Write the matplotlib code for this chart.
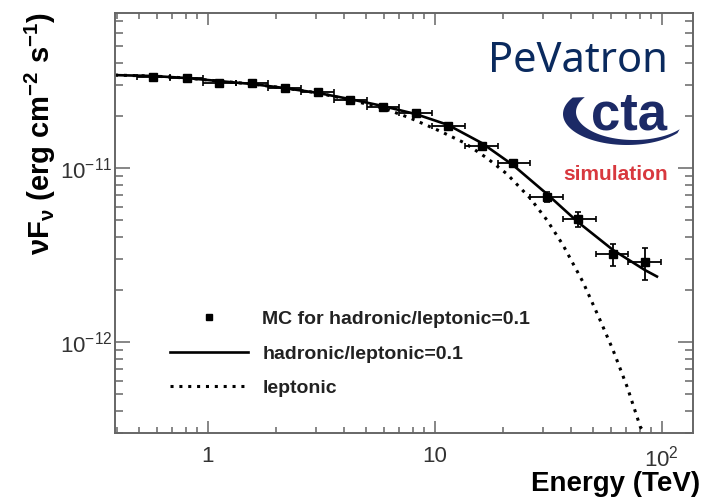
import numpy as np
import matplotlib
matplotlib.use("Agg")
import matplotlib.pyplot as plt
from matplotlib.lines import Line2D
from matplotlib.patches import Polygon

# ----------------------
# Data
# ----------------------
# MC points (energy in TeV, nuF_nu in erg cm^-2 s^-1)
mc_energy = [0.574, 0.811, 1.122, 1.569, 2.19, 3.06, 4.24, 5.93, 8.28, 11.45,
             16.2, 22.2, 31.3, 42.8, 61.1, 84.5]
mc_flux = [3.33e-11, 3.29e-11, 3.08e-11, 3.08e-11, 2.88e-11, 2.73e-11, 2.46e-11,
           2.24e-11, 2.07e-11, 1.74e-11, 1.34e-11, 1.07e-11, 6.8e-12, 5.1e-12,
           3.2e-12, 2.88e-12]
mc_flux_err = [0.8e-12, 0.8e-12, 0.8e-12, 0.8e-12, 0.7e-12, 0.6e-12, 0.6e-12,
               0.5e-12, 0.5e-12, 0.5e-12, 0.45e-12, 0.43e-12, 0.45e-12, 0.5e-12,
               0.47e-12, 0.6e-12]
# energy bin edges of the MC points
bin_edges = [0.489, 0.683, 0.954, 1.334, 1.845, 2.58, 3.60, 5.04, 6.97, 9.74,
             13.6, 19.0, 26.3, 36.8, 51.4, 71.1, 99.4]

# hadronic/leptonic = 0.1 model curve
total_energy = [0.391, 0.574, 0.811, 1.122, 1.569, 2.19, 3.064, 4.24, 5.93, 8.28,
                11.45, 16.17, 22.15, 31.26, 42.8, 61.1, 84.5, 96.5]
total_flux = [3.42e-11, 3.38e-11, 3.29e-11, 3.16e-11, 3.04e-11, 2.88e-11, 2.70e-11,
              2.49e-11, 2.27e-11, 2.04e-11, 1.77e-11, 1.39e-11, 1.04e-11, 7.09e-12,
              4.89e-12, 3.38e-12, 2.59e-12, 2.36e-12]

# leptonic model curve
lep_energy = [0.391, 0.574, 0.811, 1.122, 1.569, 2.19, 3.064, 4.24, 5.93, 7.79,
              10.56, 13.61, 17.02, 20.84, 26.32, 31.26, 36.78, 45.06, 53.53, 61.1,
              70.56, 80.6, 84.5]
lep_flux = [3.42e-11, 3.38e-11, 3.29e-11, 3.16e-11, 3.04e-11, 2.88e-11, 2.70e-11,
            2.46e-11, 2.21e-11, 1.94e-11, 1.63e-11, 1.39e-11, 1.14e-11, 9.24e-12,
            6.72e-12, 5.02e-12, 3.61e-12, 2.21e-12, 1.34e-12, 8.99e-13, 5.51e-13,
            3.25e-13, 3.0e-13]

# ----------------------
# Style
# ----------------------
plt.rcParams['font.family'] = ['Liberation Sans', 'DejaVu Sans']
plt.rcParams['mathtext.fontset'] = 'custom'
plt.rcParams['mathtext.rm'] = 'Liberation Sans'
plt.rcParams['mathtext.it'] = 'Liberation Sans:italic'
plt.rcParams['mathtext.bf'] = 'Liberation Sans:bold'

spine_col = '#666666'
label_col = '#333333'

fig = plt.figure(figsize=(7.02, 4.98), dpi=100)
ax = fig.add_axes([0.1638, 0.1305, 0.8234, 0.8434])

e = np.array(mc_energy)
edges = np.array(bin_edges)
xerr = [e - edges[:-1], edges[1:] - e]

ax.plot(total_energy, total_flux, color='black', lw=1.9, solid_capstyle='butt')
ax.plot(lep_energy, lep_flux, color='black', lw=2.2, linestyle=(0, (1, 1.9)))
ax.errorbar(mc_energy, mc_flux, xerr=xerr, yerr=mc_flux_err, fmt='s', color='black',
            ms=5.8, elinewidth=1.3, capsize=2.5, capthick=1.2)

ax.set_xscale('log')
ax.set_yscale('log')
ax.set_xlim(0.391, 137.5)
ax.set_ylim(3.0e-13, 7.78e-11)

ax.set_xticks([1, 10, 100])
ax.set_xticklabels(['1', '10', r'$10^{2}$'])
ax.set_yticks([1e-12, 1e-11])
ax.set_yticklabels([r'$10^{-12}$', r'$10^{-11}$'])

for s in ax.spines.values():
    s.set_color(spine_col)
    s.set_linewidth(1.4)
ax.tick_params(which='both', direction='in', top=True, right=True, color=spine_col,
               width=1.1, labelcolor=label_col, labelsize=16)
ax.tick_params(axis='x', which='major', length=8.5, pad=9)
ax.tick_params(axis='x', which='minor', length=4.5)
ax.tick_params(axis='y', which='major', length=11, pad=2)
ax.tick_params(axis='y', which='minor', length=6)

# legend
handles = [
    Line2D([], [], marker='s', ls='none', color='black', ms=4.5),
    Line2D([], [], color='black', lw=1.9),
    Line2D([], [], color='black', lw=2.2, linestyle=(0, (1, 1.9))),
]
labels = ['MC for hadronic/leptonic=0.1', 'hadronic/leptonic=0.1', 'leptonic']
ax.legend(handles, labels, loc='upper left', bbox_to_anchor=(0.065, 0.333),
          frameon=False, handlelength=4.0, handletextpad=0.75, labelspacing=0.86,
          prop={'weight': 'bold', 'size': 14}, labelcolor='#222222')

# axis titles
fig.text(40 / 702, 1 - 12 / 498,
         r'$\mathbf{\nu F_{\nu}\ (erg\ cm^{-2}\ s^{-1})}$',
         rotation=90, ha='center', va='top', fontsize=21)
fig.text(700 / 702, 1 / 498, 'Energy (TeV)', ha='right', va='bottom',
         fontsize=20, fontweight='bold')

# PeVatron / cta simulation overlay
fig.text(668 / 702, 1 - 72 / 498, 'PeVatron', ha='right', va='baseline',
         fontsize=30, color='#0a2a5e', family='Noto Sans')
fig.text(629 / 702, 1 - 130 / 498, 'cta', ha='center', va='baseline',
         fontsize=38, fontweight='bold', color='#1c2a66')
fig.text(616 / 702, 1 - 180 / 498, 'simulation', ha='center', va='baseline',
         fontsize=15, fontweight='bold', color='#d8383e')

ov = fig.add_axes([0, 0, 1, 1], facecolor='none')
ov.set_xlim(0, 702)
ov.set_ylim(498, 0)
ov.axis('off')
t_out = np.radians(np.linspace(212, 38, 60))
t_in = np.radians(np.linspace(38, 212, 60))
outer = np.column_stack([627 + 64 * np.cos(t_out), 114 + 31 * np.sin(t_out)])
inner = np.column_stack([634 + 58 * np.cos(t_in), 112 + 28 * np.sin(t_in)])
ov.add_patch(Polygon(np.vstack([outer, inner]), closed=True, color='#1c2a66', lw=0))

fig.savefig('out.png', dpi=100)
